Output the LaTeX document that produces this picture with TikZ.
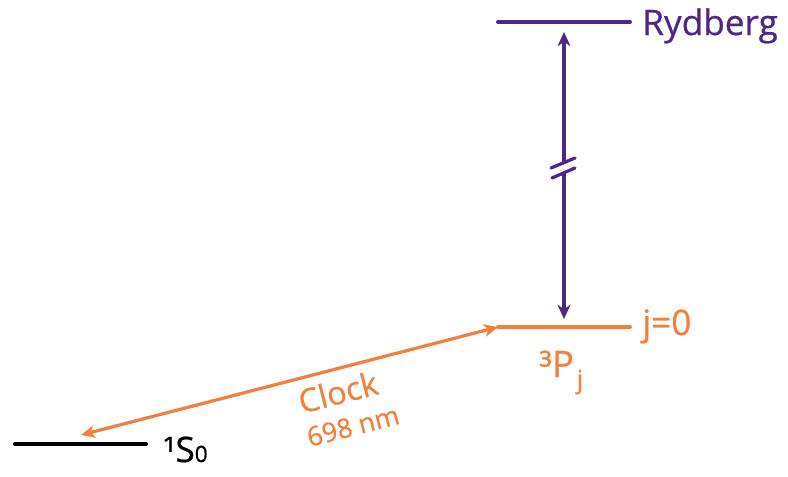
\documentclass[tikz,border=0pt]{standalone}
\usepackage{fontspec}
\setmainfont{Open Sans}[FakeBold=0.6]
\usetikzlibrary{arrows.meta}
\definecolor{colryd}{HTML}{4E2683}
\definecolor{colclk}{HTML}{F0803C}
\colorlet{colgnd}{black}
\tikzstyle{level}=[line width=2.8pt, line cap=round]
\tikzstyle{trans}=[line width=2.3pt]
\tikzstyle{tip}=[-{Stealth[length=10pt,width=9pt,inset=3pt]}]
\tikzstyle{labelsty}=[font=\fontsize{25}{28}\selectfont, inner sep=0pt]

\begin{document}
\begin{tikzpicture}[x=0.025cm,y=-0.025cm]
      \useasboundingbox (0,0) rectangle (788,476);

      % Rydberg level
      \coordinate (r1) at (498,22);
      \coordinate (r2) at (630,22);
      \draw[level,colryd] (r1) -- (r2);
      \node[labelsty,colryd,anchor=base west] (ryd) at (642,35) {Rydberg};

      % 3P level
      \coordinate (p1) at (498,327);
      \coordinate (p2) at (630,327);
      \draw[level,colclk] (p1) -- (p2);
      \node[labelsty,colclk,anchor=base west] (j0) at (642,335) {j=0};
      \node[labelsty,colclk,anchor=base west,font=\fontsize{26}{30}\selectfont] (tp) at (539,377)
        {³P\hspace{2pt}\raisebox{-8pt}{\fontsize{18}{20}\selectfont j}};

      % 1S0 level
      \coordinate (s1) at (15,444);
      \coordinate (s2) at (146,444);
      \draw[level,colgnd] (s1) -- (s2);
      \node[labelsty,colgnd,anchor=base west] (gs) at (163,462)
        {¹S{\fontsize{16}{16}\selectfont 0}};

      % Rydberg excitation (broken)
      \coordinate (ra) at (564,32);
      \coordinate (rb) at (564,163);
      \coordinate (rc) at (564,173);
      \coordinate (rd) at (564,319);
      \draw[trans,tip,colryd] (rb) -- (ra);
      \draw[trans,tip,colryd] (rc) -- (rd);
      \coordinate (b1) at (551,168);
      \coordinate (b2) at (575,158);
      \coordinate (b3) at (552,178);
      \coordinate (b4) at (575,168);
      \draw[trans,line cap=round,colryd] (b1) -- (b2) (b3) -- (b4);

      % Clock transition
      \coordinate (ca) at (498,327);
      \coordinate (cb) at (81,435);
      \draw[trans,colclk,{Stealth[length=10pt,width=9pt,inset=3pt]}-{Stealth[length=10pt,width=9pt,inset=3pt]}] (cb) -- (ca);
      \node[labelsty,colclk,rotate=14.4,font=\fontsize{23}{26}\selectfont] (clk) at (338,392) {Clock};
      \node[labelsty,colclk,rotate=14.4,font=\fontsize{19}{22}\selectfont] (wl) at (353,426) {698 nm};
\end{tikzpicture}
\end{document}
